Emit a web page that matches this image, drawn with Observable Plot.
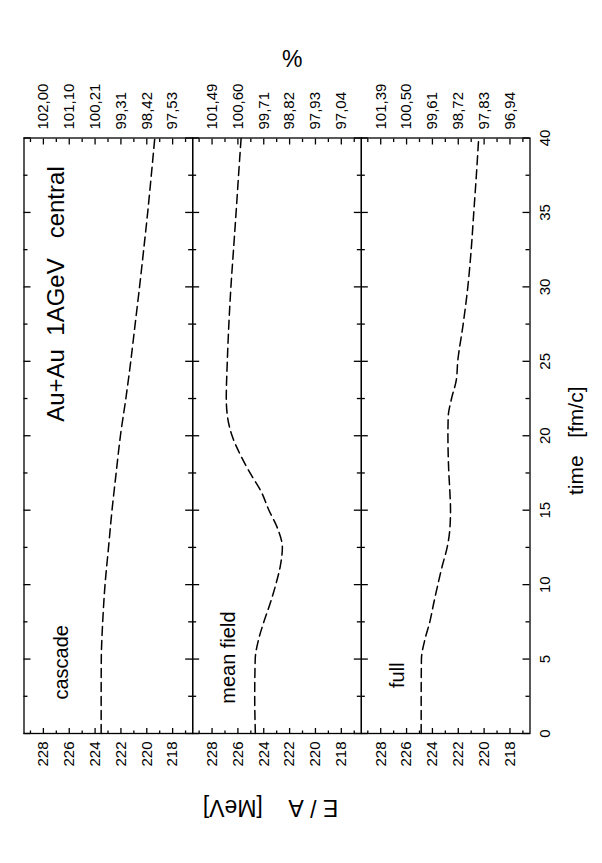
<!DOCTYPE html>
<html>
<head>
<meta charset="utf-8">
<script src="https://cdn.jsdelivr.net/npm/d3@7"></script>
<script src="https://cdn.jsdelivr.net/npm/@observablehq/plot@0.6"></script>
<style>
html, body { margin: 0; padding: 0; background: #fff; }
#wrap { position: relative; width: 602px; height: 863px; overflow: hidden; background: #fff; }
#chart { position: absolute; left: 0; top: 0; width: 863px; height: 602px; background: #fff;
         transform-origin: 0 0; transform: translate(0, 863px) rotate(-90deg); }
</style>
</head>
<body>
<div id="wrap"><div id="chart"></div></div>
<script>
// ---- data ----
const panels = ["cascade", "mean field", "full"];

const cascadeT = [0, 2.5, 5, 7.5, 10, 12.5, 15, 17.5, 20, 22.5, 25, 27.5, 30, 32.5, 35, 37.5, 40];
const cascadeE = [223.53, 223.53, 223.52, 223.41, 223.23, 222.96, 222.69, 222.37, 222.04, 221.62, 221.24, 220.9, 220.56, 220.24, 219.93, 219.65, 219.38];

const meanFieldT = [0, 2.5, 5, 6.25, 7.5, 8.75, 10, 11.25, 12.5, 13.75, 15, 16.25, 17.5, 18.75, 20, 21.25, 22.5, 25, 27.5, 30, 32.5, 35, 37.5, 40];
const meanFieldE = [224.65, 224.7, 224.66, 224.42, 223.99, 223.5, 223.07, 222.72, 222.56, 222.92, 223.6, 224.2, 225.06, 225.83, 226.45, 226.8, 226.9, 226.82, 226.7, 226.54, 226.34, 226.14, 225.95, 225.75];

const fullT = [0, 2.5, 5, 6.25, 7.5, 8.75, 10, 11.25, 12.5, 13.75, 15, 16.25, 17.5, 18.75, 20, 21.25, 22.5, 23.75, 25, 27.5, 30, 32.5, 35, 37.5, 40];
const fullE = [224.87, 224.87, 224.85, 224.6, 224.2, 223.9, 223.58, 223.24, 222.86, 222.65, 222.6, 222.65, 222.73, 222.78, 222.8, 222.78, 222.52, 222.15, 222.04, 221.62, 221.26, 221.0, 220.8, 220.6, 220.42];

const eTicks = [218, 220, 222, 224, 226, 228];
const eMinorTicks = [217, 219, 221, 223, 225, 227, 229];
const tTicks = [0, 5, 10, 15, 20, 25, 30, 35, 40];
const tMinorTicks = [2.5, 7.5, 12.5, 17.5, 22.5, 27.5, 32.5, 37.5];

// percent tick labels, one per E/A tick (218 ... 228)
const pctCascade   = ["97,53", "98,42", "99,31", "100,21", "101,10", "102,00"];
const pctMeanField = ["97,04", "97,93", "98,82", "99,71", "100,60", "101,49"];
const pctFull      = ["96,94", "97,83", "98,72", "99,61", "100,50", "101,39"];

const titleText = "Au+Au\u00a0\u00a01AGeV\u00a0\u00a0\u00a0central";
const xLabel = "time\u00a0\u00a0\u00a0[fm/c]";
const yLabel = "E\u00a0/\u00a0A\u00a0\u00a0\u00a0\u00a0[MeV]";
const y2Label = "%";

// ---- layout ----
const W = 863, H = 602;
const mL = 129, mR = 138.5, mT = 23.5, mB = 72.5;
const xDomain = [0, 40], yDomain = [216.45, 229.5];
const frameW = W - mL - mR;
const cellH = (H - mT - mB) / panels.length;
const labelPos = {"cascade": [2.28, 226.1], "mean field": [2.0, 226.2], "full": [3.06, 226.2]};
const font = '"Liberation Sans", Arial, Helvetica, sans-serif';
const tickStyle = {stroke: "black", strokeWidth: 1.3};

const series = [[cascadeT, cascadeE], [meanFieldT, meanFieldE], [fullT, fullE]];
const pctLists = [pctCascade, pctMeanField, pctFull];
const container = document.getElementById("chart");

panels.forEach((panel, i) => {
  const top = mT + i * cellH;
  const bottom = H - (mT + (i + 1) * cellH);
  const rows = series[i][0].map((t, j) => ({t, e: series[i][1][j]}));
  const last = i === panels.length - 1;

  const marks = [
    Plot.line(rows, {x: "t", y: "e", curve: "monotone-x", stroke: "black", strokeWidth: 1.5, strokeDasharray: "9,5"}),
    // inward ticks: E/A on both long edges
    Plot.tickY(eTicks, {y: d => d, insetRight: frameW - 6, ...tickStyle}),
    Plot.tickY(eMinorTicks, {y: d => d, insetRight: frameW - 3.5, ...tickStyle}),
    Plot.tickY(eTicks, {y: d => d, insetLeft: frameW - 6, ...tickStyle}),
    Plot.tickY(eMinorTicks, {y: d => d, insetLeft: frameW - 3.5, ...tickStyle}),
    // inward ticks: time on both edges
    Plot.tickX(tTicks, {x: d => d, insetTop: cellH - 7, ...tickStyle}),
    Plot.tickX(tMinorTicks, {x: d => d, insetTop: cellH - 4, ...tickStyle}),
    Plot.tickX(tTicks, {x: d => d, insetBottom: cellH - 7, ...tickStyle}),
    Plot.tickX(tMinorTicks, {x: d => d, insetBottom: cellH - 4, ...tickStyle}),
    Plot.frame({stroke: "black", strokeWidth: 1.3}),
    // E/A tick labels (left in original orientation)
    Plot.axisY(eTicks, {anchor: "left", tickSize: 0, tickPadding: 8, tickFormat: d => String(d), label: null}),
    // percent labels (right side in original orientation)
    Plot.text(eTicks, {x: () => xDomain[1], y: d => d, text: (d, j) => pctLists[i][j], textAnchor: "start", dx: 8.5, fontSize: 15, fill: "black"}),
    // panel label
    Plot.text([panel], {x: () => labelPos[panel][0], y: () => labelPos[panel][1], text: d => d, textAnchor: "start", lineAnchor: "bottom", fontSize: 20, fill: "black"})
  ];
  if (i === 0) {
    marks.push(Plot.text([titleText], {x: () => 38.1, y: () => 226.4, text: d => d, textAnchor: "end", lineAnchor: "bottom", fontSize: 24, fill: "black"}));
  }
  if (i === 1) {
    marks.push(Plot.text([yLabel], {frameAnchor: "left", textAnchor: "middle", dx: -66, dy: -6.5, rotate: -90, text: d => d, lineAnchor: "bottom", fontSize: 23, fill: "black"}));
    marks.push(Plot.text([y2Label], {frameAnchor: "right", textAnchor: "middle", dx: 78.5, dy: 15.2, rotate: 90, text: d => d, fontSize: 23, fill: "black"}));
  }
  if (last) {
    marks.push(Plot.axisX(tTicks, {anchor: "bottom", tickSize: 0, tickPadding: 9, tickFormat: d => String(d), label: null}));
    marks.push(Plot.text([xLabel], {frameAnchor: "bottom", textAnchor: "middle", dx: -5, dy: 52.5, text: d => d, lineAnchor: "bottom", fontSize: 21, fill: "black"}));
  }

  const svg = Plot.plot({
    width: W,
    height: H,
    marginLeft: mL,
    marginRight: mR,
    marginTop: top,
    marginBottom: bottom,
    style: {fontFamily: font, fontSize: "15px", background: "transparent", color: "black",
            overflow: "visible", position: "absolute", left: "0px", top: "0px"},
    x: last ? {domain: xDomain} : {domain: xDomain, axis: null},
    y: {domain: yDomain},
    marks
  });
  container.appendChild(svg);
});
</script>
</body>
</html>
